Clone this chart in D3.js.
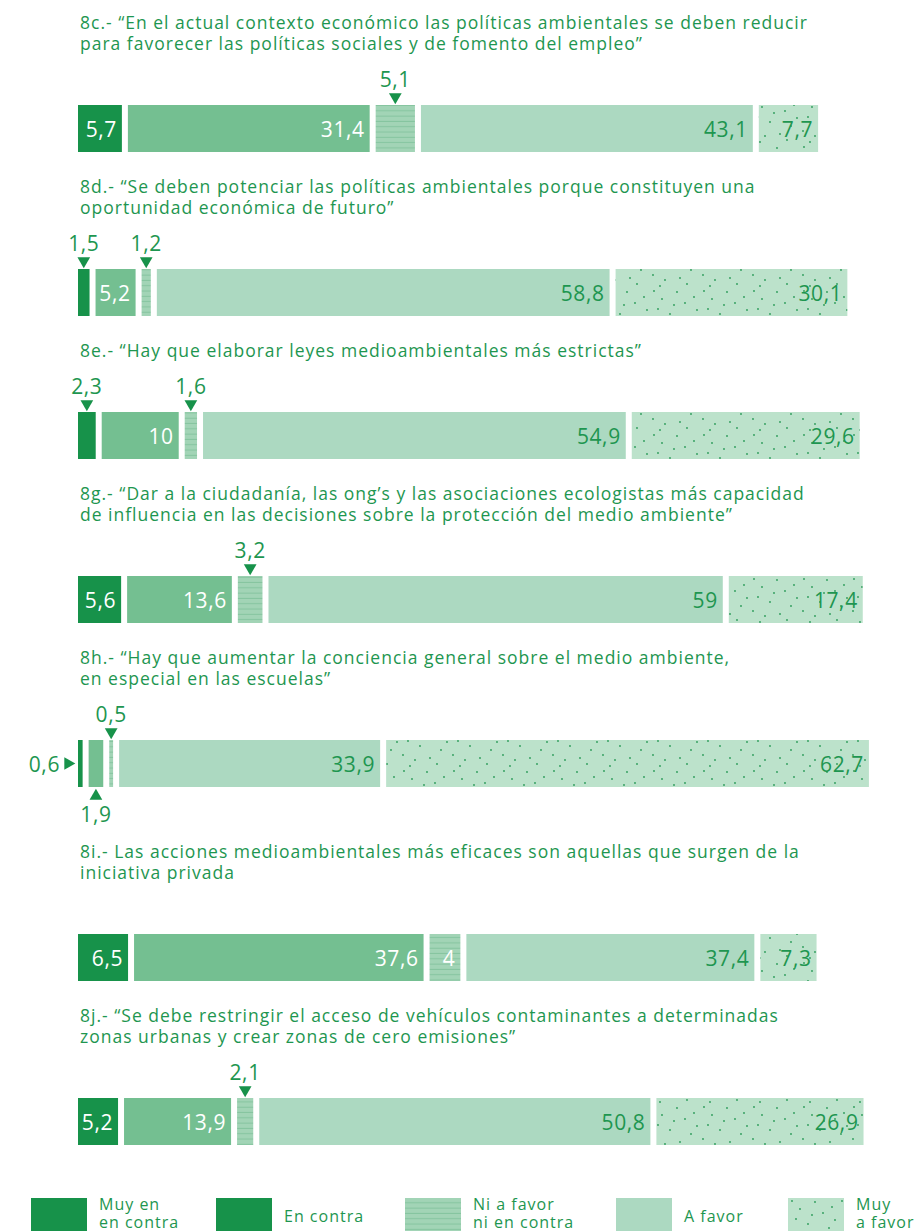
<!doctype html>
<html>
  <head>
    <meta charset="utf-8">
    <script src="https://cdn.jsdelivr.net/npm/d3@7"></script>
    <style>
      body, html {
        margin: 0;
        background: #fff;
      }
      svg {
        display: block;
        font-family: "Open Sans", sans-serif;
      }
      text.title {
        fill: #1e9650;
        font-size: 17.5px;
        letter-spacing: 1px;
      }
      text.val {
        font-size: 21px;
        letter-spacing: 0.6px;
      }
      text.legend {
        fill: #1e9650;
        font-size: 16px;
        letter-spacing: 1px;
      }
    </style>
  </head>
  <body>
    <svg width="923" height="1231"></svg>
    <script>

      // question titles (one entry per line)
      var titles = [
        ["8c.- \u201cEn el actual contexto económico las políticas ambientales se deben reducir",
         "para favorecer las políticas sociales y de fomento del empleo\u201d"],
        ["8d.- \u201cSe deben potenciar las políticas ambientales porque constituyen una",
         "oportunidad económica de futuro\u201d"],
        ["8e.- \u201cHay que elaborar leyes medioambientales más estrictas\u201d"],
        ["8g.- \u201cDar a la ciudadanía, las ong\u2019s y las asociaciones ecologistas más capacidad",
         "de influencia en las decisiones sobre la protección del medio ambiente\u201d"],
        ["8h.- \u201cHay que aumentar la conciencia general sobre el medio ambiente,",
         "en especial en las escuelas\u201d"],
        ["8i.- Las acciones medioambientales más eficaces son aquellas que surgen de la",
         "iniciativa privada"],
        ["8j.- \u201cSe debe restringir el acceso de vehículos contaminantes a determinadas",
         "zonas urbanas y crear zonas de cero emisiones\u201d"]
      ];

      var categories = ["Muy en contra", "En contra", "Ni a favor ni en contra", "A favor", "Muy a favor"];
      var legendLines = [["Muy en", "en contra"], ["En contra"], ["Ni a favor", "ni en contra"], ["A favor"], ["Muy", "a favor"]];

      var muyEnContra = [5.7, 1.5, 2.3, 5.6, 0.6, 6.5, 5.2];
      var enContra    = [31.4, 5.2, 10, 13.6, 1.9, 37.6, 13.9];
      var niNi        = [5.1, 1.2, 1.6, 3.2, 0.5, 4, 2.1];
      var aFavor      = [43.1, 58.8, 54.9, 59, 33.9, 37.4, 50.8];
      var muyAFavor   = [7.7, 30.1, 29.6, 17.4, 62.7, 7.3, 26.9];

      // where each value label goes: in the bar, or a callout top / bottom / left
      var labelPos = [
        ["in", "in", "top", "in", "in"],
        ["top", "in", "top", "in", "in"],
        ["top", "in", "top", "in", "in"],
        ["in", "in", "top", "in", "in"],
        ["left", "bottom", "top", "in", "in"],
        ["in", "in", "in", "in", "in"],
        ["in", "in", "top", "in", "in"]
      ];

      var series = [muyEnContra, enContra, niNi, aFavor, muyAFavor];
      var fmt = v => String(v).replace(".", ",");

      var green = "#1e9650";
      var fills = ["#17924a", "#74bf91", "url(#hatch)", "#acd9c1", "url(#dots)"];
      var textFill = ["#fff", "#fff", "#fff", green, green];
      var legendFills = ["#17924a", "#17924a", "url(#hatch)", "#acd9c1", "url(#dots)"];

      var svg = d3.select("svg");
      var defs = svg.append("defs");

      var hatch = defs.append("pattern").attr("id", "hatch")
        .attr("patternUnits", "userSpaceOnUse").attr("width", 10).attr("height", 5.3);
      hatch.append("rect").attr("width", 10).attr("height", 5.3).attr("fill", "#a2d4b6");
      hatch.append("rect").attr("y", 4.3).attr("width", 10).attr("height", 1).attr("fill", "#85c49f");

      var dotPts = [[4, 3], [12, 11], [27, 4], [35, 15], [8, 21], [20, 26], [44, 9], [41, 30],
        [3, 35], [15, 40], [30, 38], [47, 22], [24, 17], [37, 44], [10, 46]];
      var dots = defs.append("pattern").attr("id", "dots")
        .attr("patternUnits", "userSpaceOnUse").attr("width", 50).attr("height", 48);
      dots.append("rect").attr("width", 50).attr("height", 48).attr("fill", "#bce2cb");
      dots.selectAll("circle").data(dotPts).join("circle")
        .attr("cx", d => d[0]).attr("cy", d => d[1]).attr("r", 0.9).attr("fill", "#2a9a58");

      var x0 = 78, gap = 6, barH = 47;
      var x = d3.scaleLinear().domain([0, 100]).range([0, 770]);

      var tri = d3.symbol().type(d3.symbolTriangle).size(70);

      var y = 29;
      titles.forEach((lines, q) => {
        var g = svg.append("g");
        lines.forEach((l, i) => {
          g.append("text").attr("class", "title")
            .attr("x", 80).attr("y", y + i * 21).text(l);
        });
        var barTop = y + (lines.length - 1) * 21 + 55;

        var cum = 0;
        var segs = series.map((s, k) => {
          var v = s[q];
          var seg = { k: k, v: v, x: x0 + x(cum) + k * gap, w: x(v) };
          cum += v;
          return seg;
        });

        g.selectAll("rect.seg").data(segs).join("rect")
          .attr("class", "seg")
          .attr("x", d => d.x).attr("y", barTop)
          .attr("width", d => d.w).attr("height", barH)
          .attr("fill", d => fills[d.k]);

        segs.forEach(d => {
          var pos = labelPos[q][d.k];
          var cx = d.x + d.w / 2;
          if (pos === "in") {
            g.append("text").attr("class", "val")
              .attr("x", d.x + d.w - 5).attr("y", barTop + barH / 2 + 8)
              .attr("text-anchor", "end").attr("fill", textFill[d.k])
              .text(fmt(d.v));
          } else if (pos === "top") {
            g.append("path").attr("d", tri)
              .attr("transform", "translate(" + cx + "," + (barTop - 8) + ") rotate(180)")
              .attr("fill", "#17924a");
            g.append("text").attr("class", "val").attr("fill", green)
              .attr("x", cx).attr("y", barTop - 18).attr("text-anchor", "middle")
              .text(fmt(d.v));
          } else if (pos === "bottom") {
            g.append("path").attr("d", tri)
              .attr("transform", "translate(" + cx + "," + (barTop + barH + 9) + ")")
              .attr("fill", "#17924a");
            g.append("text").attr("class", "val").attr("fill", green)
              .attr("x", cx).attr("y", barTop + barH + 35).attr("text-anchor", "middle")
              .text(fmt(d.v));
          } else if (pos === "left") {
            g.append("path").attr("d", tri)
              .attr("transform", "translate(" + (d.x - 10) + "," + (barTop + barH / 2) + ") rotate(90)")
              .attr("fill", "#17924a");
            g.append("text").attr("class", "val").attr("fill", green)
              .attr("x", d.x - 18).attr("y", barTop + barH / 2 + 8).attr("text-anchor", "end")
              .text(fmt(d.v));
          }
        });

        y = barTop + barH + 41 + (labelPos[q].indexOf("bottom") >= 0 ? 30 : 0);
      });

      // legend
      var legendX = [31, 216, 405, 616, 788];
      var lg = svg.append("g").selectAll("g").data(categories).join("g")
        .attr("transform", (d, i) => "translate(" + legendX[i] + ",1198)");
      lg.append("rect").attr("width", 56).attr("height", 33)
        .attr("fill", (d, i) => legendFills[i]);
      lg.each(function(d, i) {
        var ls = legendLines[i];
        d3.select(this).selectAll("text").data(ls).join("text")
          .attr("class", "legend")
          .attr("x", 68)
          .attr("y", (l, j) => ls.length === 1 ? 24 : 12 + j * 18)
          .text(l => l);
      });

    </script>
  </body>
</html>
